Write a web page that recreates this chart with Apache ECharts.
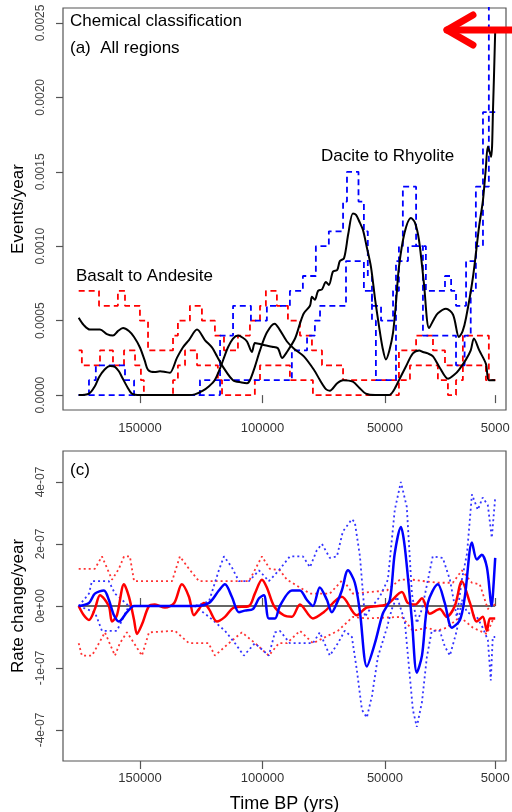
<!DOCTYPE html>
<html>
<head>
<meta charset="utf-8">
<script src="https://cdn.jsdelivr.net/npm/echarts@6/dist/echarts.min.js"></script>
<style>
  html, body { margin: 0; padding: 0; background: #fff; }
  #main { width: 512px; height: 812px; }
</style>
</head>
<body>
<div id="main"></div>
<script>
// x ticks (years BP)
const xTicks = [150000, 100000, 50000, 5000];

// panel (a): values in units of 1e-4 events/year
const topTicks = [0, 5, 10, 15, 20, 25];

const baMean = [
  [175000, 5.2], [172900, 4.7], [170400, 4.4], [166300, 4.4], [163500, 4.1], [161000, 4.0],
  [159000, 4.3], [156900, 4.5], [154500, 4.3], [152400, 3.9], [150000, 3.2], [148000, 2.3],
  [146700, 1.7], [144000, 1.55], [141800, 1.6], [139500, 1.55], [137800, 1.5], [134900, 2.5],
  [132500, 3.2], [130000, 3.7], [126700, 4.4], [123500, 3.7], [120600, 3.2], [118500, 2.6],
  [116100, 1.9], [112000, 1.0], [108500, 0.85], [106300, 0.8], [105100, 1.0], [103100, 1.9],
  [101000, 3.0], [98200, 4.2], [95000, 4.8], [93000, 4.4], [90000, 3.6], [87000, 3.1],
  [83100, 2.6], [79000, 1.7], [76500, 1.0], [74100, 0.4], [72500, 0.3], [69500, 0.8],
  [67100, 1.0], [63100, 0.9], [60500, 0.5], [57800, 0.1], [54000, 0.0], [48400, 0.0],
  [46500, 0.3], [44300, 1.0], [41500, 1.9], [38600, 2.8], [36000, 3.0], [34500, 2.9],
  [32500, 2.8], [30400, 2.6], [27500, 1.8], [24300, 1.1], [21500, 1.4], [19800, 1.7],
  [16900, 2.4], [15000, 3.0], [13700, 3.8], [11500, 3.0], [8800, 2.1], [7600, 1.0], [5000, 1.0]
];

const drMean = [
  [175000, 0], [170800, 0.1], [168400, 0.6], [166700, 1.2], [164500, 1.7], [162200, 1.95],
  [160200, 1.9], [158600, 1.6], [157300, 1.2], [155000, 0.5], [153300, 0.1], [150000, 0],
  [130000, 0], [127600, 0.05], [124300, 0.3], [121800, 0.6], [119500, 1.0], [117300, 1.8],
  [115500, 2.6], [114100, 3.2], [112000, 3.8], [110000, 4.0], [108000, 3.85], [106300, 3.6],
  [104300, 2.9], [103100, 3.5], [101500, 3.45], [99000, 3.35], [96100, 3.25], [93700, 3.15],
  [92000, 2.5], [90000, 2.9], [86700, 3.8], [84700, 4.8], [83100, 5.5], [80600, 6.0],
  [79800, 6.6], [78600, 6.4], [77300, 7.0], [75700, 7.1], [74100, 7.6], [72900, 7.4],
  [71200, 8.3], [69500, 8.4], [68400, 9.0], [66700, 9.2], [65000, 10.8], [63100, 12.2],
  [61800, 12.1], [60300, 11.6], [59000, 11.1], [57500, 10.0], [55700, 8.6], [54000, 6.4],
  [52400, 4.6], [51000, 3.2], [49600, 2.4], [48200, 3.0], [46700, 4.2], [45400, 6.4],
  [44300, 8.6], [42000, 10.9], [39400, 11.9], [37800, 11.6], [36100, 10.4], [34100, 7.5],
  [32000, 4.5], [30000, 5.1], [28400, 5.5], [25100, 5.8], [22200, 5.4], [19800, 3.9],
  [18300, 4.3], [16900, 5.2], [14100, 7.9], [11600, 11.3], [10000, 13.1], [8800, 15.3],
  [8000, 16.7], [6700, 16.0], [5900, 19.2], [5000, 24.5]
];

// step bounds: each value holds from its year until the next entry
const redUpper = [
  [175000, 7], [166700, 6], [159000, 7], [156100, 6], [150000, 5], [146700, 3], [136500, 4],
  [134500, 5], [129600, 6], [124700, 5], [119400, 4], [115700, 3], [110000, 4], [105100, 5],
  [101000, 6], [98600, 7], [94100, 6], [89600, 5], [84700, 4], [79800, 3], [75700, 2],
  [67100, 1], [44300, 3], [37300, 4], [30400, 3], [25500, 2], [18200, 4], [7600, 1], [5000, 1]
];
const redLower = [
  [175000, 3], [173700, 2], [166300, 3], [161000, 2], [156500, 3], [152000, 2], [149600, 1],
  [148400, 0], [136500, 1], [134500, 2], [131600, 3], [126700, 2], [118200, 1], [116500, 0],
  [103100, 1], [101000, 2], [88800, 1], [79400, 0], [44300, 1], [39800, 2], [28400, 1],
  [24300, 0], [21000, 1], [18200, 2], [8800, 1], [5000, 1]
];
const blueUpper = [
  [175000, 0], [170800, 1], [168000, 2], [156100, 1], [152400, 0], [125500, 1], [117300, 4],
  [112000, 6], [104700, 5], [98200, 6], [88800, 7], [83500, 8], [78200, 10], [72900, 11],
  [67100, 13], [65500, 15], [60800, 13], [58600, 11], [57000, 8], [55300, 6], [51600, 5],
  [46700, 7], [44300, 10], [42700, 14], [37300, 10], [33300, 7], [25500, 8], [23000, 7],
  [21000, 6], [16900, 9], [12900, 14], [10000, 19], [7600, 27], [5000, 27]
];
const blueLower = [
  [175000, 0], [117300, 1], [88000, 3], [81800, 4], [78600, 5], [76500, 6], [65900, 9],
  [58600, 7], [55300, 5], [53700, 1], [45500, 9], [40600, 10], [34500, 4], [21000, 2],
  [17500, 4], [15000, 7], [12900, 10], [10000, 14], [7600, 19], [5000, 19]
];

// panel (c): values in units of 1e-7 per year
const rateTicks = [-4, -2, 0, 2, 4];
const rateTickLabels = ['-4e-07', '-1e-07', '0e+00', '2e-07', '4e-07'];

const zeroLine = [[175000, 0], [5000, 0]];

const baRate = [
  [175000, 0], [172900, -0.3], [170800, -0.45], [168400, -0.1], [166300, 0.35], [162700, 0],
  [161400, -0.5], [159400, -0.3], [156500, 0.7], [154500, 0.3], [152400, -0.45], [151200, -0.9],
  [149200, -0.6], [146300, 0], [143900, 0.05], [139800, -0.05], [136000, 0.1], [132900, 0.7],
  [130000, 0.3], [128000, -0.3], [125900, -0.1], [123900, 0.1], [121800, -0.1], [118600, -0.5],
  [115300, -0.35], [111700, -0.05], [105500, 0], [103100, 0.4], [100200, 0.85], [98200, 0.6],
  [95300, 0], [91300, -0.3], [88000, -0.35], [84700, 0.05], [79400, -0.4], [75000, -0.2],
  [67600, 0.3], [61500, -0.3], [57400, -0.05], [49200, 0.05], [43100, 0.45], [40700, 0.1],
  [37500, 0.05], [34900, 0.25], [31700, -0.25], [27600, -0.1], [24800, -0.35], [21500, 0],
  [18600, 0.8], [15300, 0.1], [12500, -0.5], [10100, -0.35], [8400, -0.8], [7200, -0.4],
  [6000, -0.4], [5000, -0.4]
];
const drRate = [
  [175000, 0], [170800, 0.1], [168400, 0.4], [164700, 0.5], [162700, 0.2], [160600, -0.3],
  [158600, -0.5], [155300, -0.2], [152400, 0], [127600, 0], [121800, 0.1], [117800, 0.5],
  [115300, 0.7], [112500, 0.3], [109600, -0.2], [107200, -0.15], [103900, -0.1], [101400, 0.25],
  [99400, 0.35], [97400, -0.4], [94900, -0.4], [92900, 0], [88000, 0.5], [84700, 0.5],
  [81900, 0.2], [79400, 0], [76600, 0.6], [73700, 0.2], [71700, -0.2], [69600, 0.1],
  [67600, 0.5], [65100, 1.15], [62300, 0.75], [60200, -0.2], [57400, -1.95], [54100, -1.2],
  [50900, -0.25], [48000, 0.2], [46000, 1.7], [43500, 2.55], [41900, 1.9], [39000, -0.45],
  [37000, -2.15], [34900, -1.6], [32500, 0.1], [28400, 0.7], [25600, 0.1], [22700, -0.7],
  [19400, -0.45], [17400, 0.3], [14500, 2.05], [12500, 1.5], [10500, 1.65], [8400, 1.25],
  [6400, 0], [6000, 0.3], [5000, 1.55]
];
const baRateUpper = [
  [175000, 1.2], [168400, 1.2], [165500, 1.6], [161400, 0.85], [158600, 1.2], [156500, 1.6],
  [154100, 1.6], [152400, 0.8], [136900, 0.8], [133700, 1.6], [130000, 1.2], [125900, 0.8],
  [105500, 0.8], [100200, 1.6], [97000, 1.2], [92900, 1.15], [90000, 0.85], [80600, 0.4],
  [72500, 0.4], [67200, 0.85], [63100, 0.4], [49200, 0.5], [43900, 0.85], [39000, 0.85],
  [28800, 0.75], [22300, 0.75], [18600, 1.15], [14500, 0.75], [11300, 0.7], [8000, -0.1],
  [6000, 0.1], [5000, 0]
];
const baRateLower = [
  [175000, -1.2], [173700, -1.6], [169600, -1.6], [166700, -1.2], [164300, -0.85], [160200, -1.6],
  [158200, -1.2], [155300, -0.85], [152400, -1.2], [149200, -1.6], [146300, -0.85], [135700, -0.8],
  [130000, -1.2], [122000, -1.2], [119400, -1.6], [113700, -1.2], [108400, -0.85], [103000, -1.2],
  [97400, -1.6], [93300, -1.2], [90000, -1.2], [84700, -0.8], [79400, -1.2], [69200, -0.8],
  [63100, -0.35], [57400, -0.4], [43100, -0.35], [38600, -0.8], [32900, -0.7], [28800, -0.8],
  [24800, -0.7], [19400, -0.35], [14100, -0.7], [11300, -0.8], [8400, -0.9], [6000, -0.45],
  [5000, -0.45]
];
const drRateUpper = [
  [175000, 0], [170800, 0.4], [169600, 0.8], [162700, 0.8], [160200, 0.4], [154500, 0],
  [127600, 0], [121800, 0.15], [117800, 1.15], [115700, 1.6], [112500, 1.25], [109600, 0.8],
  [105500, 0.8], [101400, 1.15], [97400, 0.8], [93300, 1.15], [88800, 1.6], [83500, 1.6],
  [80600, 1.25], [77800, 1.8], [75700, 2.0], [72500, 1.55], [69600, 1.6], [67200, 2.4],
  [63500, 2.8], [62300, 2.7], [60200, 1.6], [58200, -0.35], [56100, -0.1], [52100, 0.3],
  [48800, 0.85], [46000, 3.1], [43500, 4.0], [41100, 3.2], [39000, 0.4], [37000, -0.55],
  [34900, -0.1], [30500, 1.6], [26400, 1.55], [23500, 0.85], [20700, -0.35], [18600, 0.85],
  [16500, 1.7], [14500, 3.6], [12100, 3.1], [10100, 3.5], [8000, 3.25], [6400, 2.2], [5000, 3.5]
];
const drRateLower = [
  [175000, 0], [168400, -0.2], [165500, -0.8], [159400, -0.8], [154500, 0], [127600, 0],
  [121800, -0.35], [115300, -0.8], [111200, -1.2], [107600, -1.6], [103100, -1.2], [97400, -1.6],
  [94900, -0.85], [92900, -0.8], [88800, -1.2], [79400, -1.2], [76600, -0.85], [72500, -1.6],
  [69200, -1.2], [66400, -0.8], [63500, -1.0], [61500, -2.05], [59400, -3.35], [57400, -3.6],
  [55300, -2.9], [52900, -1.65], [49200, -0.7], [47200, -0.1], [45100, 0.3], [41900, -0.5],
  [38600, -3.35], [37000, -3.9], [34900, -3.1], [32900, -1.65], [30900, -0.8], [27600, -0.8],
  [25600, -1.3], [23500, -1.6], [20700, -0.8], [18600, 0.2], [16500, -0.2], [12500, -0.35],
  [10100, -0.7], [8000, -1.1], [6800, -2.4], [6000, -1.0], [5000, -1.0]
];

const FONT = '"Liberation Sans", Arial, sans-serif';
const RED = '#ff0000';
const BLUE = '#0000ff';
const AXIS = '#555';

const chart = echarts.init(document.getElementById('main'));

function line(data, color, type, width, panel, extra) {
  return Object.assign({
    type: 'line',
    xAxisIndex: panel === 0 ? 0 : 2,
    yAxisIndex: panel,
    data: data,
    symbol: 'none',
    silent: true,
    lineStyle: { color: color, width: width, type: type },
    z: 2
  }, extra || {});
}

const dash = [6, 4];
const dot = [2, 3];

const xCommon = {
  type: 'value',
  inverse: true,
  min: 600,
  max: 181400,
  splitLine: { show: false },
  axisLine: { show: false },
  axisTick: { length: 8, customValues: xTicks, lineStyle: { color: AXIS, width: 1.2 } },
  axisLabel: { customValues: xTicks, fontSize: 13, color: '#333', fontFamily: FONT, formatter: v => String(v) }
};

const options = {
  animation: false,
  backgroundColor: '#fff',
  grid: [
    { left: 63, right: 6, top: 8, height: 402, show: true, borderColor: AXIS, borderWidth: 1.2, outerBoundsMode: 'none' },
    { left: 63, right: 6, top: 451, height: 310, show: true, borderColor: AXIS, borderWidth: 1.2, outerBoundsMode: 'none' }
  ],
  xAxis: [
    Object.assign({}, xCommon, {
      gridIndex: 0, position: 'bottom',
      axisLabel: Object.assign({}, xCommon.axisLabel, { margin: 12 })
    }),
    Object.assign({}, xCommon, {
      gridIndex: 1, position: 'top',
      axisLabel: { show: false }
    }),
    Object.assign({}, xCommon, {
      gridIndex: 1, position: 'bottom',
      axisLabel: Object.assign({}, xCommon.axisLabel, { margin: 11 }),
      name: 'Time BP (yrs)', nameLocation: 'middle', nameGap: 34,
      nameTextStyle: { fontSize: 18, color: '#000', fontFamily: FONT }
    })
  ],
  yAxis: [
    {
      type: 'value', gridIndex: 0, min: -1, max: 26,
      splitLine: { show: false },
      axisLine: { show: false },
      axisTick: { length: 7, customValues: topTicks, lineStyle: { color: AXIS, width: 1.2 } },
      axisLabel: {
        customValues: topTicks, rotate: 90, margin: 16, fontSize: 12, color: '#444', fontFamily: FONT,
        formatter: v => (v / 10000).toFixed(4)
      },
      name: 'Events/year', nameLocation: 'middle', nameGap: 34,
      nameTextStyle: { fontSize: 17, color: '#000', fontFamily: FONT }
    },
    {
      type: 'value', gridIndex: 1, min: -5, max: 5,
      splitLine: { show: false },
      axisLine: { show: false },
      axisTick: { length: 7, customValues: rateTicks, lineStyle: { color: AXIS, width: 1.2 } },
      axisLabel: {
        customValues: rateTicks, rotate: 90, margin: 16, fontSize: 12, color: '#444', fontFamily: FONT,
        formatter: v => {
          const i = rateTicks.findIndex(t => Math.abs(t - v) < 1e-6);
          return i >= 0 ? rateTickLabels[i] : '';
        }
      },
      name: 'Rate change/year', nameLocation: 'middle', nameGap: 34,
      nameTextStyle: { fontSize: 17, color: '#000', fontFamily: FONT }
    }
  ],
  series: [
    line(redUpper, RED, dash, 1.8, 0, { step: 'end' }),
    line(redLower, RED, dash, 1.8, 0, { step: 'end' }),
    line(blueUpper, BLUE, dash, 1.8, 0, { step: 'end' }),
    line(blueLower, BLUE, dash, 1.8, 0, { step: 'end' }),
    line(baMean, '#000', 'solid', 2, 0, { smooth: 0.3, z: 3 }),
    line(drMean, '#000', 'solid', 2, 0, { smooth: 0.3, z: 3 }),

    line(zeroLine, '#333', 'solid', 1.5, 1),
    line(baRateUpper, '#ff3333', dot, 1.8, 1),
    line(baRateLower, '#ff3333', dot, 1.8, 1),
    line(drRateUpper, '#3333ff', dot, 1.8, 1),
    line(drRateLower, '#3333ff', dot, 1.8, 1),
    line(baRate, RED, 'solid', 2.5, 1, { smooth: 0.3, z: 3 }),
    line(drRate, BLUE, 'solid', 2.5, 1, { smooth: 0.3, z: 4 })
  ],
  graphic: [
    { type: 'text', x: 70, y: 21, style: { text: 'Chemical classification', fontSize: 17, fontFamily: FONT, fill: '#000', verticalAlign: 'middle' } },
    { type: 'text', x: 70, y: 48, style: { text: '(a)  All regions', fontSize: 17, fontFamily: FONT, fill: '#000', verticalAlign: 'middle' } },
    { type: 'text', x: 321, y: 156, style: { text: 'Dacite to Rhyolite', fontSize: 17, fontFamily: FONT, fill: '#000', verticalAlign: 'middle' } },
    { type: 'text', x: 76, y: 276, style: { text: 'Basalt to Andesite', fontSize: 17, fontFamily: FONT, fill: '#000', verticalAlign: 'middle' } },
    { type: 'text', x: 70, y: 470, style: { text: '(c)', fontSize: 17, fontFamily: FONT, fill: '#000', verticalAlign: 'middle' } },
    { type: 'polyline', shape: { points: [[512, 30], [447, 30]] }, style: { stroke: RED, lineWidth: 7, lineCap: 'round' }, z: 10 },
    { type: 'polyline', shape: { points: [[473, 15], [447, 30], [473, 45]] }, style: { stroke: RED, lineWidth: 7, lineCap: 'round', lineJoin: 'round', fill: null }, z: 10 }
  ]
};

chart.setOption(options);
</script>
</body>
</html>
